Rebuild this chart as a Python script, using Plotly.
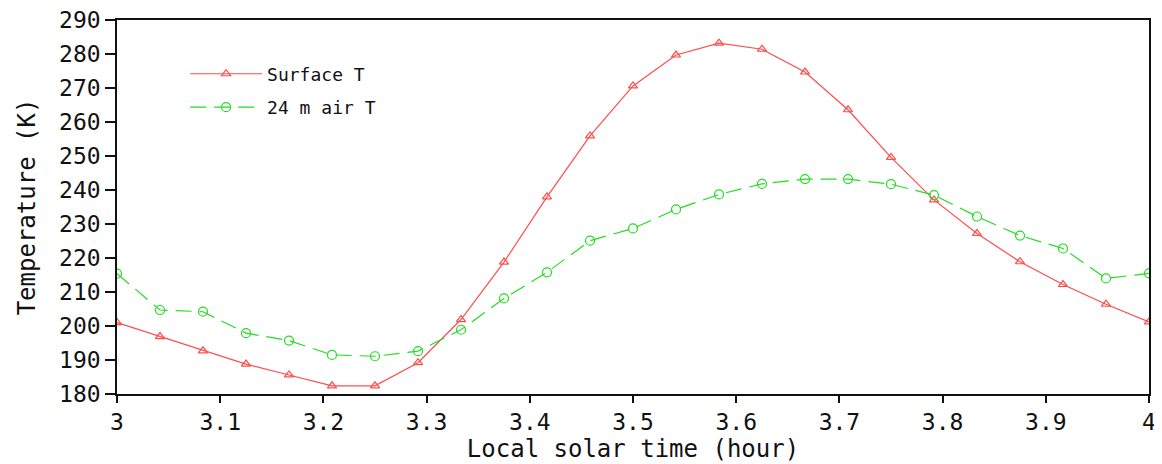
import plotly.graph_objects as go

hours = [3 + i / 24 for i in range(25)]
surface_T = [201.0, 196.9, 192.7, 188.8, 185.6, 182.4, 182.4, 189.2, 201.9, 218.8,
             238.0, 255.9, 270.6, 279.7, 283.2, 281.4, 274.7, 263.6, 249.6, 237.1,
             227.2, 218.9, 212.2, 206.4, 201.2]
air_T = [215.4, 204.7, 204.2, 197.9, 195.7, 191.5, 191.1, 192.6, 198.9, 208.1,
         215.8, 225.1, 228.7, 234.3, 238.7, 241.8, 243.2, 243.2, 241.7, 238.5,
         232.2, 226.6, 222.8, 214.0, 215.5]
x_ticks = [3, 3.1, 3.2, 3.3, 3.4, 3.5, 3.6, 3.7, 3.8, 3.9, 4]
x_tick_text = ["3", "3.1", "3.2", "3.3", "3.4", "3.5", "3.6", "3.7", "3.8", "3.9", "4"]
y_ticks = list(range(180, 291, 10))

FONT = "DejaVu Sans Mono"

fig = go.Figure()
fig.add_trace(go.Scatter(
    x=hours, y=surface_T, name="Surface T", mode="lines+markers", legendgroup="a",
    line=dict(color="#ff4d4d", width=1.2),
    marker=dict(symbol="triangle-up-open", size=8, color="#ff4d4d", line=dict(width=1.2)),
))
fig.add_trace(go.Scatter(
    x=hours, y=air_T, name="24 m air T", mode="lines+markers", legendgroup="b",
    line=dict(color="#22dd22", width=1.2, dash="16px,8px"),
    marker=dict(symbol="circle-open", size=9, color="#22dd22", line=dict(width=1.2)),
))

# page has an 8px body margin, so the figure is sized/offset to compensate
fig.update_layout(
    width=1154, height=456,
    margin=dict(l=109, r=13, t=12, b=70),
    paper_bgcolor="white", plot_bgcolor="white",
    font=dict(family=FONT, color="#111111", size=23),
    showlegend=True,
    legend=dict(x=0.066, y=0.905, xanchor="left", yanchor="top",
                bgcolor="rgba(0,0,0,0)", font=dict(size=18, family=FONT),
                traceorder="grouped", tracegroupgap=7, itemwidth=72),
    xaxis=dict(range=[3, 4], tickmode="array",
               tickvals=x_ticks, ticktext=x_tick_text,
               ticks="outside", ticklen=7, tickwidth=1.5, tickcolor="#111",
               showline=True, linecolor="#111", linewidth=1.5, mirror=True,
               showgrid=False, zeroline=False, automargin=False,
               ticklabeloverflow="allow",
               tickfont=dict(size=23),
               title=dict(text="Local solar time (hour)", font=dict(size=24), standoff=2)),
    yaxis=dict(range=[180, 290], tickmode="array",
               tickvals=y_ticks,
               ticks="outside", ticklen=10, tickwidth=1.5, tickcolor="#111",
               showline=True, linecolor="#111", linewidth=1.5, mirror=True,
               showgrid=False, zeroline=False, automargin=False,
               ticklabeloverflow="allow",
               tickfont=dict(size=23),
               title=dict(text="Temperature (K)", font=dict(size=24), standoff=17)),
)

fig.write_html("out.html")
